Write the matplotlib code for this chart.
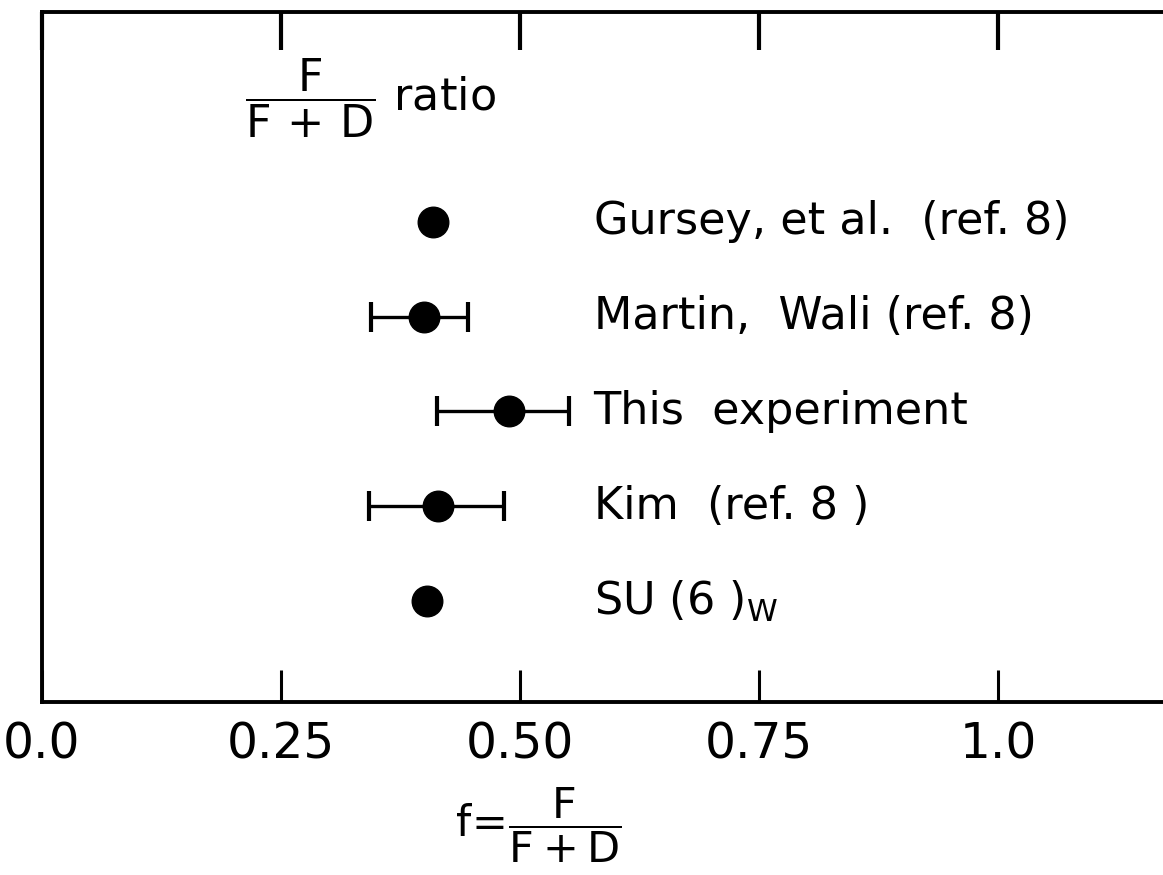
import numpy as np
import matplotlib.pyplot as plt

plt.rcParams['font.family'] = ['DejaVu Sans']
plt.rcParams['mathtext.fontset'] = 'dejavusans'

# values
labels = ["Gursey, et al.  (ref. 8)", "Martin,  Wali (ref. 8)", "This  experiment",
          "Kim  (ref. 8 )", r"SU (6 )$_{\mathsf{W}}$"]
rows = [5, 4, 3, 2, 1]
f_vals = [0.409, 0.400, 0.488, 0.414, 0.403]
f_low = [np.nan, 0.344, 0.413, 0.342, np.nan]
f_high = [np.nan, 0.446, 0.551, 0.483, np.nan]
xticks = [0.0, 0.25, 0.50, 0.75, 1.0]
xticklabels = ["0.0", "0.25", "0.50", "0.75", "1.0"]

fig = plt.figure(figsize=(11.63, 8.75), dpi=100)
ax = fig.add_axes([42 / 1163, 1 - 702 / 875, 1 - 42 / 1163, (702 - 12) / 875])

# error bars (only where the figure shows them)
has_err = [i for i in range(len(f_vals)) if not np.isnan(f_low[i])]
ex = np.array([f_vals[i] for i in has_err])
ey = np.array([rows[i] for i in has_err])
elo = ex - np.array([f_low[i] for i in has_err])
ehi = np.array([f_high[i] for i in has_err]) - ex
ax.errorbar(ex, ey, xerr=[elo, ehi], fmt='none', ecolor='black',
            elinewidth=2.4, capsize=10.5, capthick=3)

ax.plot(f_vals, rows, 'o', color='black', markersize=22, zorder=3)

for y, lab in zip(rows, labels):
    ax.text(0.577, y, lab, fontsize=32, va='center', ha='left')

ax.set_xlim(0.0, (1163 - 42) / 956)
ax.set_ylim(-0.066, 7.216)

ax.set_xticks(xticks)
ax.set_xticklabels(xticklabels, fontsize=35)
ax.tick_params(axis='x', direction='in', length=23, width=2.2, pad=13,
               top=True, bottom=True)
ax.set_yticks([])

# longer ticks at the top
for t in ax.xaxis.get_major_ticks():
    t.tick2line.set_markersize(27)
    t.tick2line.set_markeredgewidth(3)

for side in ['left', 'top', 'bottom']:
    ax.spines[side].set_linewidth(2.8)
ax.spines['right'].set_visible(False)

# labels
fig.text(245 / 1163, 1 - 98 / 875, r'$\dfrac{\mathrm{F}}{\mathrm{F}\,+\,\mathrm{D}}$ ratio',
         fontsize=32, ha='left', va='center')
fig.text(455 / 1163, 1 - 825 / 875, r'$\mathrm{f}\!=\!\dfrac{\mathrm{F}}{\mathrm{F + D}}$',
         fontsize=31, ha='left', va='center')

fig.savefig('out.png', dpi=100)
